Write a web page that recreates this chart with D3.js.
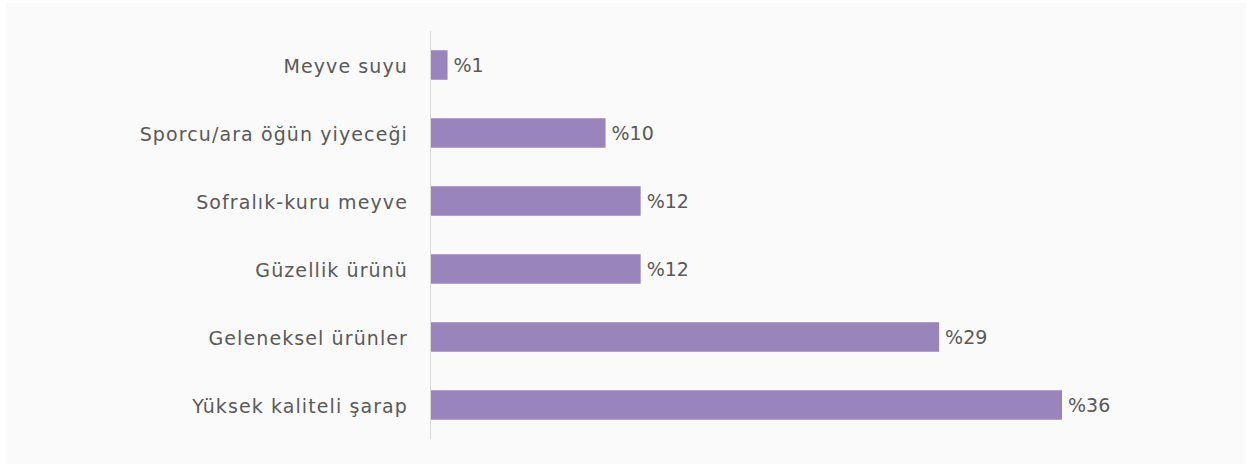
<!DOCTYPE html>
<html>
<head>
<meta charset="utf-8">
<script src="https://cdn.jsdelivr.net/npm/d3@7"></script>
<style>
  html, body { margin: 0; padding: 0; background: #ffffff; }
  svg { display: block; }
</style>
</head>
<body>
<div id="chart"></div>
<script>
// Kullanım alanları ve yüzde payları
const categories = [
  "Meyve suyu",
  "Sporcu/ara öğün yiyeceği",
  "Sofralık-kuru meyve",
  "Güzellik ürünü",
  "Geleneksel ürünler",
  "Yüksek kaliteli şarap"
];
const values = [1, 10, 12, 12, 29, 36];
const valueLabels = ["%1", "%10", "%12", "%12", "%29", "%36"];

const W = 1248, H = 466;
const axisX = 430, plotTop = 31, plotBottom = 439, barMaxX = 1062;

const svg = d3.select("#chart").append("svg")
  .attr("width", W).attr("height", H);

// panel background
svg.append("rect")
  .attr("x", 6).attr("y", 3)
  .attr("width", W - 8).attr("height", H - 5)
  .attr("fill", "#fafafa");

const y = d3.scaleBand()
  .domain(categories)
  .range([plotTop, plotBottom])
  .paddingInner(0.566)
  .paddingOuter(0.283);

const x = d3.scaleLinear()
  .domain([0, d3.max(values)])
  .range([axisX, barMaxX]);

const rows = categories.map((c, i) => ({ c, v: values[i], label: valueLabels[i] }));

// bars
svg.append("g").selectAll("rect")
  .data(rows)
  .join("rect")
  .attr("x", x(0))
  .attr("y", d => y(d.c))
  .attr("width", d => x(d.v) - x(0))
  .attr("height", y.bandwidth())
  .attr("fill", "#9985bc");

// category axis
const yAxis = d3.axisLeft(y).tickSize(0).tickPadding(22);
const gy = svg.append("g")
  .attr("transform", `translate(${axisX},0)`)
  .call(yAxis);
gy.select(".domain").remove();
gy.selectAll("text")
  .attr("font-family", "'DejaVu Sans', sans-serif")
  .attr("font-size", 19)
  .attr("letter-spacing", "1.1px")
  .attr("fill", "#595959")
  .attr("dy", "0.42em");

// vertical baseline
svg.append("line")
  .attr("x1", axisX + 0.5).attr("x2", axisX + 0.5)
  .attr("y1", plotTop).attr("y2", plotBottom)
  .attr("stroke", "#d9d9d9").attr("stroke-width", 1);

// value labels
svg.append("g").selectAll("text")
  .data(rows)
  .join("text")
  .attr("x", d => x(d.v) + 6)
  .attr("y", d => y(d.c) + y.bandwidth() / 2)
  .attr("dy", "0.36em")
  .attr("font-family", "'DejaVu Sans', sans-serif")
  .attr("font-size", 19)
  .attr("fill", "#595959")
  .text(d => d.label);
</script>
</body>
</html>
